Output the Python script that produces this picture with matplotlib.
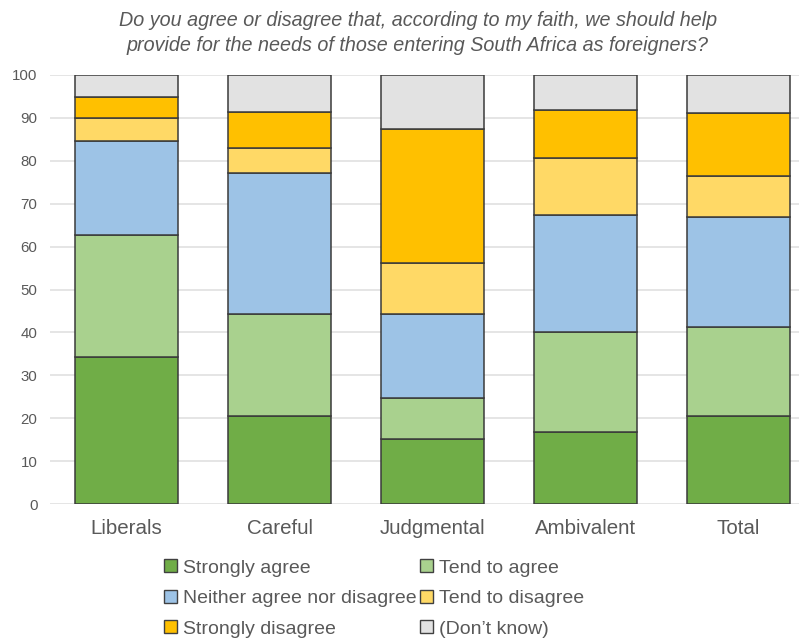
import matplotlib
matplotlib.use("Agg")
import matplotlib.pyplot as plt
from matplotlib.patches import Patch
import numpy as np

plt.rcParams['font.family'] = ['Liberation Sans', 'DejaVu Sans']

categories = ["Liberals", "Careful", "Judgmental", "Ambivalent", "Total"]
series_names = ["Strongly agree", "Tend to agree", "Neither agree nor disagree",
                "Tend to disagree", "Strongly disagree", "(Don\u2019t know)"]
strongly_agree = [34.2, 20.5, 15.2, 16.8, 20.6]
tend_agree = [28.5, 23.8, 9.5, 23.3, 20.7]
neither = [21.8, 32.9, 19.6, 27.2, 25.7]
tend_disagree = [5.4, 5.9, 11.8, 13.4, 9.5]
strongly_disagree = [4.9, 8.2, 31.3, 11.1, 14.7]
dont_know = [5.2, 8.7, 12.6, 8.2, 8.8]
yticks = [0, 10, 20, 30, 40, 50, 60, 70, 80, 90, 100]

series = [strongly_agree, tend_agree, neither, tend_disagree, strongly_disagree, dont_know]
colors = ["#70AD47", "#A9D18E", "#9DC3E6", "#FFD966", "#FFC000", "#E2E2E2"]

fig = plt.figure(figsize=(7.99, 6.39), dpi=100)
ax = fig.add_axes([50/799, 1-504/639, 1-50/799, (504-75)/639])

x = np.arange(len(categories))
bottom = np.zeros(len(categories))
for vals, c in zip(series, colors):
    ax.bar(x, vals, width=0.67, bottom=bottom, color=c, edgecolor="#3a3a3a",
           linewidth=1.1, zorder=3)
    bottom += np.array(vals)

ax.set_ylim(0, 100)
ax.set_xlim(-0.5, 4.395)
ax.set_yticks(yticks)
ax.set_xticks(x)
ax.set_xticklabels(categories, fontsize=14.8, color="#595959")
ax.tick_params(axis='y', labelsize=10.8, colors="#595959", length=0, pad=9)
ax.tick_params(axis='x', length=0, pad=11)
ax.yaxis.grid(True, color="#e0e0e0", linewidth=1.2, zorder=0)
ax.set_axisbelow(True)
for s in ax.spines.values():
    s.set_visible(False)

fig.text(0.523, 1-33/639, "Do you agree or disagree that, according to my faith, we should help\n"
         "provide for the needs of those entering South Africa as foreigners?",
         ha="center", va="center", fontsize=14.2, style="italic", color="#595959",
         linespacing=1.4)

order = [0, 2, 4, 1, 3, 5]
handles = [Patch(facecolor=colors[i], edgecolor="#404040", linewidth=1.0) for i in order]
labels = [series_names[i] for i in order]
fig.legend(handles, labels, ncol=2, loc="center", bbox_to_anchor=(0.468, 1-598.5/639),
           frameon=False, fontsize=14, handlelength=0.65, handleheight=0.65,
           handletextpad=0.3, columnspacing=0.2, labelspacing=0.68,
           labelcolor="#595959")

fig.savefig("out.png", dpi=100)
